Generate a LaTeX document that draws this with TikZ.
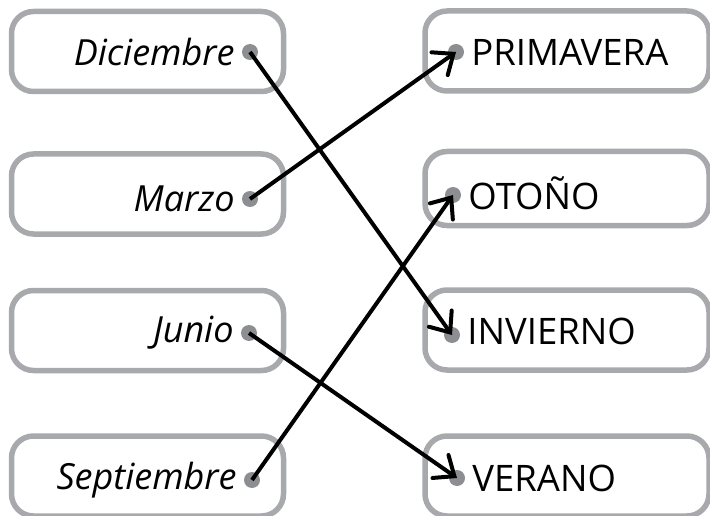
\documentclass[tikz,border=0pt]{standalone}
\usepackage{fontspec}
\setmainfont{Open Sans}
\usepackage{xcolor}
\usetikzlibrary{arrows.meta, positioning}
\definecolor{boxgray}{RGB}{167,169,172}
\definecolor{dotgray}{RGB}{140,142,145}

\begin{document}
\begin{tikzpicture}[x=1pt,y=-1pt,node distance=7pt]
  \tikzstyle{box}=[draw=boxgray, line width=5.5pt, rounded corners=22pt, minimum height=80pt]
  \tikzstyle{dot}=[circle, fill=dotgray, inner sep=0pt, minimum size=16pt]
  \tikzstyle{month}=[inner sep=0pt, font=\fontsize{36}{40}\selectfont\itshape]
  \tikzstyle{season}=[inner sep=0pt, font=\fontsize{36.5}{40}\selectfont]
  \tikzstyle{link}=[line width=4pt, -{Straight Barb[length=17pt,width=28pt,line cap=round]}]

  \useasboundingbox (0,0) rectangle (710,516);

  % months
  \node[box, minimum width=272pt](m_1) at (147.5,51.5){};
  \node[box, minimum width=272pt](m_2) at (147.5,194){};
  \node[box, minimum width=272pt](m_3) at (147.5,330.5){};
  \node[box, minimum width=272pt](m_4) at (147.5,476){};

  % seasons
  \node[box, minimum width=284pt](s_1) at (567,51){};
  \node[box, minimum width=284pt, minimum height=74pt](s_2) at (567,188.5){};
  \node[box, minimum width=284pt](s_3) at (567,330){};
  \node[box, minimum width=284pt](s_4) at (567,476){};

  \node[dot](a_1) at (250,52){};
  \node[dot](a_2) at (250,199){};
  \node[dot](a_3) at (249,333){};
  \node[dot](a_4) at (252,480){};
  \node[dot](b_1) at (456,52){};
  \node[dot](b_2) at (453,195){};
  \node[dot](b_3) at (452,335){};
  \node[dot](b_4) at (457,478){};

  \node[month, left=of a_1]{Diciembre};
  \node[month, left=of a_2]{Marzo};
  \node[month, left=of a_3]{Junio};
  \node[month, left=of a_4]{Septiembre};
  \node[season, right=of b_1]{PRIMAVERA};
  \node[season, right=of b_2, yshift=2pt]{OTOÑO};
  \node[season, right=of b_3, yshift=4pt]{INVIERNO};
  \node[season, right=of b_4]{VERANO};

  \draw[link] (a_1.center) -- (b_3.center);
  \draw[link] (a_2.center) -- (b_1.center);
  \draw[link] (a_3.center) -- (b_4.center);
  \draw[link] (a_4.center) -- (b_2.center);
\end{tikzpicture}
\end{document}
